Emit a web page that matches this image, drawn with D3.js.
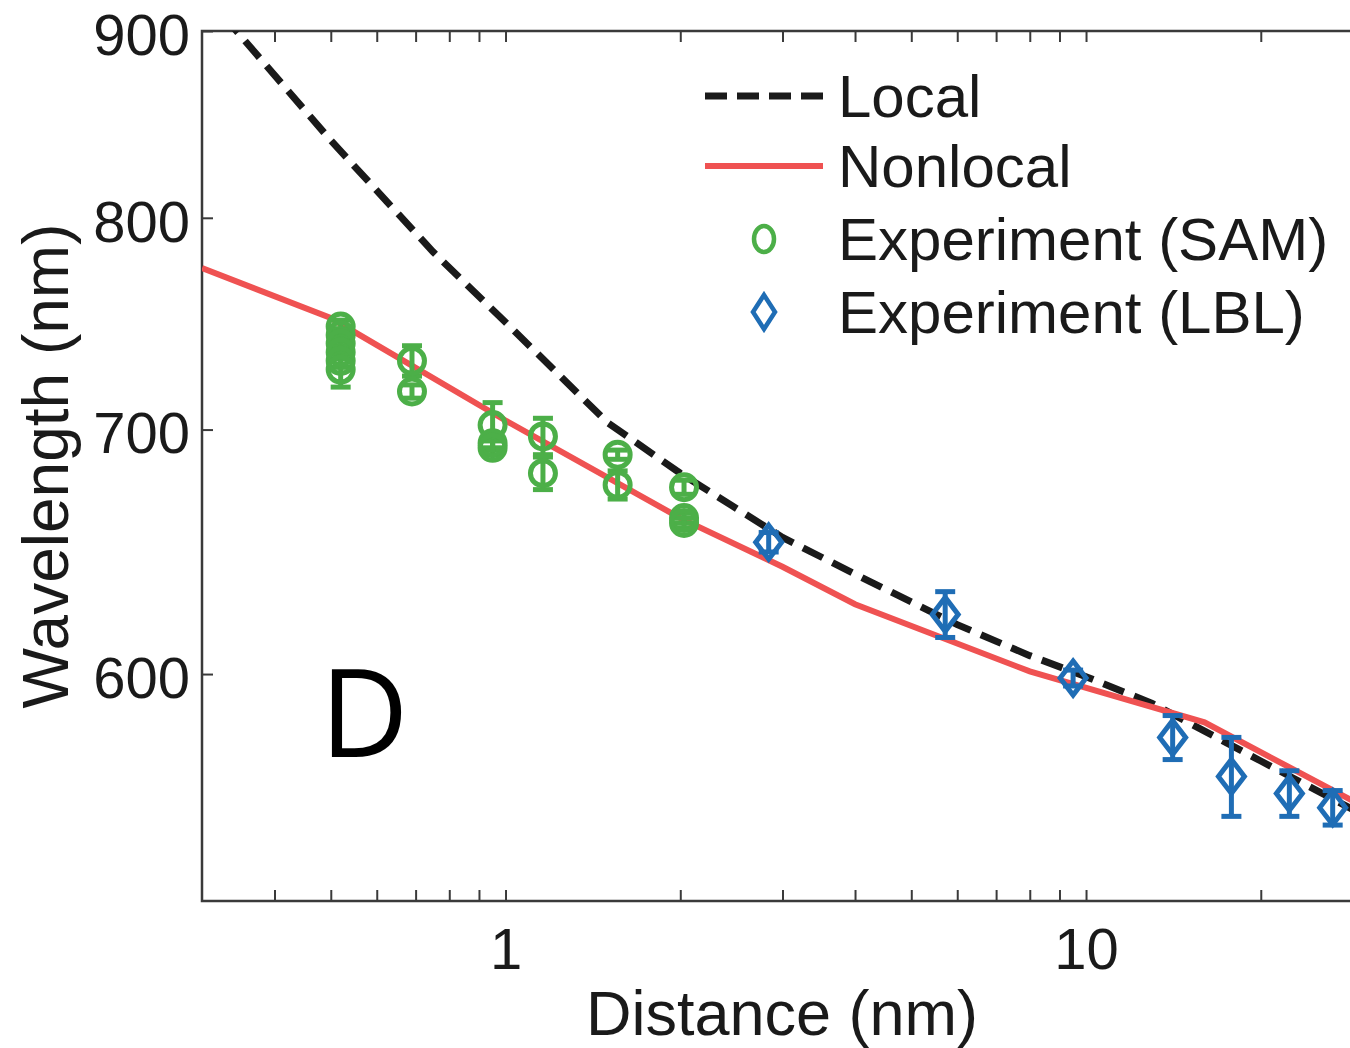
<!DOCTYPE html>
<html>
<head>
<meta charset="utf-8">
<script src="https://cdn.jsdelivr.net/npm/d3@7"></script>
<style>
  body { margin: 0; background: #fff; }
  svg { display: block; }
</style>
</head>
<body>
<div id="chart"></div>
<script>
// model curves: distance (nm) -> plasmon wavelength (nm)
const localDist    = [0.3, 0.5, 0.75, 1, 1.5, 2, 3, 4, 6, 8, 10, 13, 20, 30];
const localWave    = [923, 840, 783, 749, 703, 681, 654, 639, 619, 607, 599, 589, 568, 549];
const nonlocalDist = [0.3, 0.5, 1, 2, 3, 4, 8, 16, 30];
const nonlocalWave = [775, 751, 704, 662, 642, 627, 601, 582, 552];

// experiment, SAM spacers
const samDist = [0.52, 0.52, 0.52, 0.52, 0.52, 0.52, 0.69, 0.69, 0.95, 0.95, 0.95, 1.16, 1.16, 1.56, 1.56, 2.03, 2.03, 2.03];
const samWave = [747, 743, 739, 735, 731, 727, 731, 717, 702, 694, 692, 697, 681, 689, 676, 675, 662, 660];
const samErr  = [3, 3, 3, 3, 3, 8, 7, 3, 10, 3, 3, 8, 7, 2, 6, 3, 2, 2];

// experiment, LBL spacers
const lblDist = [2.84, 5.72, 9.5, 14.1, 17.8, 22.4, 26.6];
const lblWave = [652, 623, 598.5, 576.5, 562.5, 556.5, 551.5];
const lblErr  = [4, 9, 3, 8, 14, 8, 6];

// axes
const xMajor = [1, 10];
const xMinor = [0.4, 0.5, 0.6, 0.7, 0.8, 0.9, 2, 3, 4, 5, 6, 7, 8, 9, 20];
const yTicks = [600, 700, 800, 900];

const legendLabels = ["Local", "Nonlocal", "Experiment (SAM)", "Experiment (LBL)"];

const width = 1350, height = 1048;
const plotLeft = 202, plotTop = 31, plotRight = 1363, plotBottom = 901;

const colLocal = "#1a1a1a", colNonlocal = "#ef5252", colSam = "#4caf48", colLbl = "#1f6db5";
const font = "'Liberation Sans', Arial, Helvetica, sans-serif";

var svg = d3.select("#chart")
    .append("svg")
    .attr("width", width)
    .attr("height", height);

var x = d3.scaleLog().domain([0.3, 30]).range([plotLeft, plotRight]);
var y = d3.scaleLog().domain([520, 900]).range([plotBottom, plotTop]);

svg.append("defs").append("clipPath")
    .attr("id", "plot-clip")
    .append("rect")
    .attr("x", plotLeft).attr("y", plotTop)
    .attr("width", plotRight - plotLeft).attr("height", plotBottom - plotTop);

// ticks (all pointing inwards)
function styleAxis(g){
    g.select(".domain").remove();
    g.selectAll("line").attr("stroke", "#3a3a3a").attr("stroke-width", 2);
    g.selectAll("text").attr("font-family", font).attr("font-size", 58).attr("fill", "#1a1a1a");
}

svg.append("g")
    .attr("transform", "translate(0," + plotBottom + ")")
    .call(d3.axisBottom(x).tickValues(xMajor).tickSize(-11).tickPadding(27).tickFormat(d3.format("d")))
    .call(styleAxis);
svg.append("g")
    .attr("transform", "translate(0," + plotBottom + ")")
    .call(d3.axisBottom(x).tickValues(xMinor).tickSize(-11).tickFormat(""))
    .call(styleAxis);
svg.append("g")
    .attr("transform", "translate(0," + plotTop + ")")
    .call(d3.axisTop(x).tickValues(xMajor.concat(xMinor)).tickSize(-11).tickFormat(""))
    .call(styleAxis);
svg.append("g")
    .attr("transform", "translate(" + plotLeft + ",0)")
    .call(d3.axisLeft(y).tickValues(yTicks).tickSize(-11).tickPadding(12).tickFormat(d3.format("d")))
    .call(styleAxis)
    .call(g => g.selectAll("text").attr("dy", "0.4em"));

// frame
svg.append("path")
    .attr("d", "M" + plotRight + "," + plotTop + "H" + plotLeft + "V" + plotBottom + "H" + plotRight)
    .attr("fill", "none")
    .attr("stroke", "#3a3a3a")
    .attr("stroke-width", 2.5);

// model lines
var line = d3.line().x(d => x(d[0])).y(d => y(d[1]));
var plot = svg.append("g").attr("clip-path", "url(#plot-clip)");

plot.append("path")
    .datum(localDist.map((d, i) => [d, localWave[i]]))
    .attr("d", line)
    .attr("fill", "none")
    .attr("stroke", colLocal)
    .attr("stroke-width", 7)
    .attr("stroke-dasharray", "22,11");

plot.append("path")
    .datum(nonlocalDist.map((d, i) => [d, nonlocalWave[i]]))
    .attr("d", line)
    .attr("fill", "none")
    .attr("stroke", colNonlocal)
    .attr("stroke-width", 6);

// error bars + hollow markers
function drawPoints(dist, wave, err, color, shape){
    var pts = dist.map((d, i) => ({d: d, v: wave[i], e: err[i]}));
    var g = svg.append("g")
        .attr("stroke", color)
        .attr("stroke-width", 5)
        .attr("fill", "none");

    var bars = g.selectAll(".err").data(pts).enter().append("g");
    bars.append("line")
        .attr("x1", p => x(p.d)).attr("x2", p => x(p.d))
        .attr("y1", p => y(p.v - p.e)).attr("y2", p => y(p.v + p.e));
    bars.append("line")
        .attr("x1", p => x(p.d) - 10).attr("x2", p => x(p.d) + 10)
        .attr("y1", p => y(p.v - p.e)).attr("y2", p => y(p.v - p.e));
    bars.append("line")
        .attr("x1", p => x(p.d) - 10).attr("x2", p => x(p.d) + 10)
        .attr("y1", p => y(p.v + p.e)).attr("y2", p => y(p.v + p.e));

    g.selectAll(".mk").data(pts).enter().append("path")
        .attr("d", shape)
        .attr("transform", p => "translate(" + x(p.d) + "," + y(p.v) + ")");
}

const circle = "M-12.5,0A12.5,12.5 0 1,0 12.5,0A12.5,12.5 0 1,0 -12.5,0Z";
const diamond = "M0,-17L13,0L0,17L-13,0Z";

drawPoints(samDist, samWave, samErr, colSam, circle);
drawPoints(lblDist, lblWave, lblErr, colLbl, diamond);

// axis titles
svg.append("text")
    .attr("x", 782).attr("y", 1035)
    .attr("text-anchor", "middle")
    .attr("font-family", font).attr("font-size", 63).attr("fill", "#1a1a1a")
    .text("Distance (nm)");

svg.append("text")
    .attr("transform", "translate(68,466) rotate(-90)")
    .attr("text-anchor", "middle")
    .attr("font-family", font).attr("font-size", 64).attr("fill", "#1a1a1a")
    .text("Wavelength (nm)");

// panel letter
svg.append("text")
    .attr("x", 320).attr("y", 757)
    .attr("font-family", "'Open Sans', 'Noto Sans', sans-serif")
    .attr("font-size", 122).attr("fill", "#000")
    .text("D");

// legend
var legend = svg.append("g");
var rowY = [96, 166, 239, 312];

legend.append("line")
    .attr("x1", 705).attr("x2", 823).attr("y1", rowY[0]).attr("y2", rowY[0])
    .attr("stroke", colLocal).attr("stroke-width", 7).attr("stroke-dasharray", "22,10");
legend.append("line")
    .attr("x1", 705).attr("x2", 823).attr("y1", rowY[1]).attr("y2", rowY[1])
    .attr("stroke", colNonlocal).attr("stroke-width", 6);
legend.append("ellipse")
    .attr("cx", 764).attr("cy", rowY[2]).attr("rx", 10).attr("ry", 13)
    .attr("fill", "none").attr("stroke", colSam).attr("stroke-width", 4.5);
legend.append("path")
    .attr("d", "M0,-17L11,0L0,17L-11,0Z")
    .attr("transform", "translate(764," + rowY[3] + ")")
    .attr("fill", "none").attr("stroke", colLbl).attr("stroke-width", 4.5);

legend.selectAll("text")
    .data(legendLabels)
    .enter()
    .append("text")
      .attr("x", 838)
      .attr("y", (d, i) => rowY[i] + 21)
      .attr("font-family", font).attr("font-size", 60).attr("fill", "#1a1a1a")
      .text(d => d);
</script>
</body>
</html>
